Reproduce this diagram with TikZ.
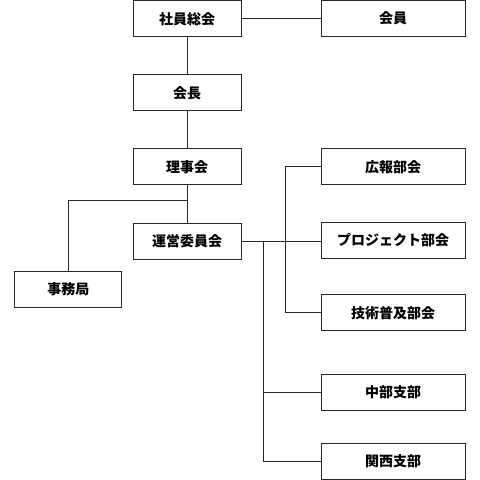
\documentclass[tikz,border=0pt]{standalone}
\usepackage{fontspec}
\newfontfamily\jp{Noto Sans CJK JP}
\begin{document}
\begin{tikzpicture}[x=1pt,y=-1pt,
  box/.style={draw=black!85,line width=0.9pt,fill=white,minimum height=36pt,inner sep=0pt,font=\jp\bfseries\fontsize{14}{16}\selectfont},
  lbox/.style={box,minimum width=108pt},
  rbox/.style={box,minimum width=144pt},
  conn/.style={draw=black!85,line width=0.9pt}]
\useasboundingbox (0,0) rectangle (480,480);
\node[lbox] (soukai) at (187,18.7) {社員総会};
\node[rbox] (kaiin) at (393,18.7) {会員};
\node[lbox] (kaichou) at (187,92.7) {会長};
\node[lbox] (rijikai) at (187,166.7) {理事会};
\node[lbox] (unei) at (187,241) {運営委員会};
\node[box,minimum width=107pt] (jimu) at (68.3,289.2) {事務局};
\node[rbox] (kouhou) at (393,166.7) {広報部会};
\node[rbox] (proj) at (393,240.5) {プロジェクト部会};
\node[rbox] (gijutsu) at (393,312.8) {技術普及部会};
\node[rbox] (chubu) at (393,392.5) {中部支部};
\node[rbox] (kansai) at (393,461.3) {関西支部};
\draw[conn] (soukai.east) -- (kaiin.west);
\draw[conn] (soukai.south) -- (kaichou.north);
\draw[conn] (kaichou.south) -- (rijikai.north);
\draw[conn] (rijikai.south) -- (unei.north);
\coordinate (jb) at (187,200.7);
\draw[conn] (jb) -| (jimu.north);
\coordinate (b1) at (285.7,241);
\coordinate (b2) at (263.3,241);
\draw[conn] (unei.east) -- (b1);
\draw[conn] (kouhou.west) -| (b1) |- (gijutsu.west);
\draw[conn] (b1) -- (b1 -| proj.west);
\draw[conn] (b2) |- (chubu.west);
\draw[conn] (b2) |- (kansai.west);
\end{tikzpicture}
\end{document}
